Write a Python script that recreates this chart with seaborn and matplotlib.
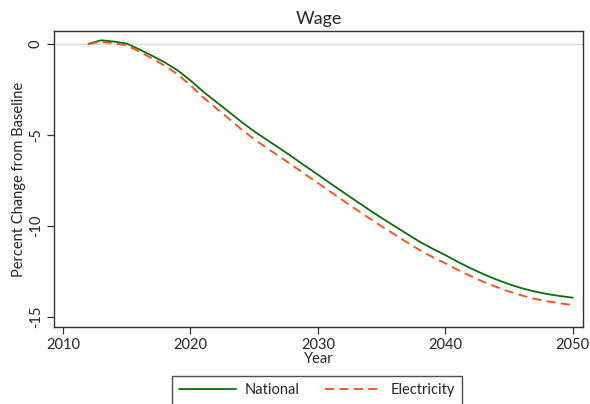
import numpy as np
import pandas as pd
import seaborn as sns
import matplotlib
matplotlib.use("Agg")
import matplotlib.pyplot as plt
from matplotlib.lines import Line2D

years = list(range(2012, 2051))

national = [0.00, 0.20, 0.13, 0.02, -0.30, -0.65, -1.02, -1.45, -2.00, -2.62,
            -3.17, -3.72, -4.28, -4.80, -5.27, -5.73, -6.21, -6.70, -7.18, -7.67,
            -8.15, -8.63, -9.10, -9.56, -10.00, -10.44, -10.87, -11.25, -11.60, -11.98,
            -12.33, -12.65, -12.94, -13.20, -13.42, -13.60, -13.74, -13.85, -13.94]

electricity = [0.00, 0.12, 0.03, -0.08, -0.42, -0.80, -1.20, -1.67, -2.27, -2.93,
               -3.52, -4.10, -4.69, -5.23, -5.72, -6.19, -6.67, -7.16, -7.64, -8.13,
               -8.61, -9.09, -9.56, -10.02, -10.46, -10.90, -11.33, -11.71, -12.05, -12.42,
               -12.76, -13.07, -13.35, -13.60, -13.82, -14.00, -14.14, -14.25, -14.34]

series_names = ["National", "Electricity"]
series_colors = {"National": "#0a6e0a", "Electricity": "#ff4a12"}

x_ticks = [2010, 2020, 2030, 2040, 2050]
y_ticks = [0, -5, -10, -15]

df = pd.concat([
    pd.DataFrame({"Year": years, "value": national, "series": "National"}),
    pd.DataFrame({"Year": years, "value": electricity, "series": "Electricity"}),
])

sns.set_theme(style="white")
plt.rcParams["font.family"] = ["Lato", "DejaVu Sans"]

fig = plt.figure(figsize=(5.90, 4.04), dpi=100)
ax = fig.add_axes([54 / 590, 1 - 327 / 404, (583 - 54) / 590, (327 - 31) / 404])

ax.axhline(0, color="#dcdcdc", lw=1.0, zorder=0)

sns.lineplot(data=df, x="Year", y="value", hue="series", style="series",
             hue_order=series_names, style_order=series_names,
             palette=series_colors,
             dashes={"National": "", "Electricity": (5, 3)},
             linewidth=1.3, ax=ax, legend=False)

ax.set_xlim(2009.3, 2050.8)
ax.set_ylim(-15.55, 0.71)
ax.set_xticks(x_ticks)
ax.set_yticks(y_ticks)
ax.set_xticklabels([str(t) for t in x_ticks], fontsize=10.5)
ax.set_yticklabels([str(t) for t in y_ticks], fontsize=10.5, rotation=90, va="center")
ax.tick_params(axis="both", which="both", direction="out", length=5, width=0.9,
               color="#333333", pad=3, left=True, bottom=True)

for s in ax.spines.values():
    s.set_color("#333333")
    s.set_linewidth(1.0)

ax.set_title("Wage", fontsize=13, pad=5)
ax.set_xlabel("Year", fontsize=10.5, labelpad=0)
ax.set_ylabel("Percent Change from Baseline", fontsize=10.5, labelpad=2)

handles = [
    Line2D([], [], color=series_colors["National"], lw=1.3),
    Line2D([], [], color=series_colors["Electricity"], lw=1.3, dashes=(5, 3)),
]
leg = fig.legend(handles, series_names, loc="upper center",
                 bbox_to_anchor=(317 / 590, 1 - 376 / 404), ncol=2,
                 frameon=True, fancybox=False, fontsize=10.5,
                 handlelength=3.9, columnspacing=1.7, handletextpad=0.6,
                 borderpad=0.5, borderaxespad=0)
leg.get_frame().set_edgecolor("#222222")
leg.get_frame().set_linewidth(1.0)

fig.savefig("out.png", dpi=100)
